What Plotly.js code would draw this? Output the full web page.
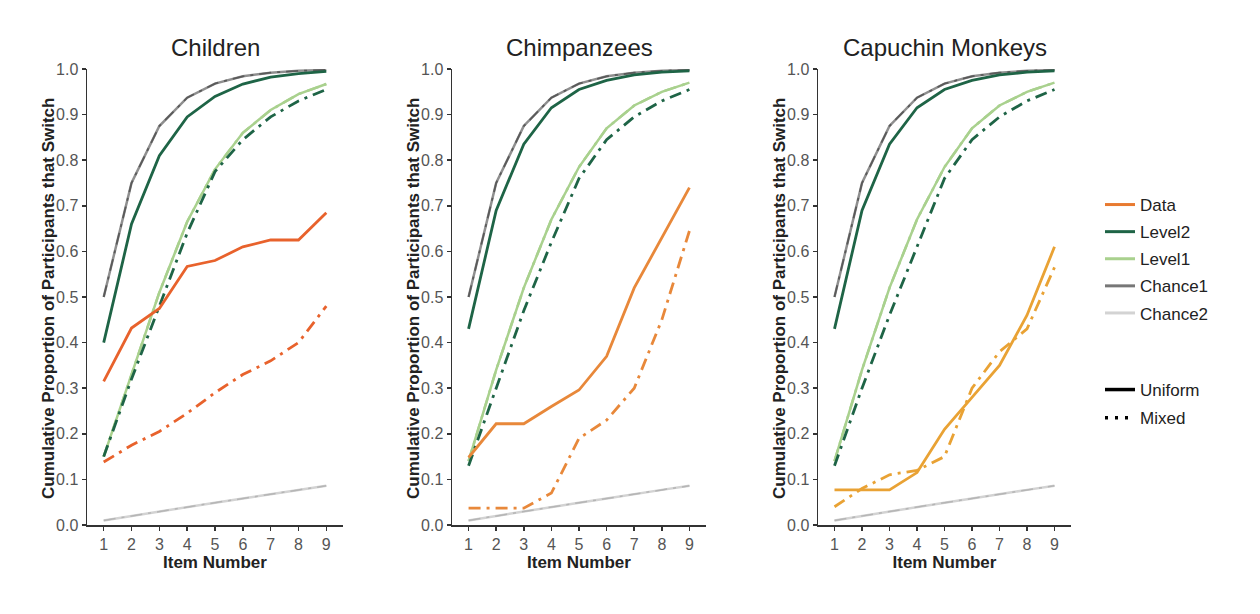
<!DOCTYPE html>
<html>
<head>
<meta charset="utf-8">
<script src="https://cdn.plot.ly/plotly-3.0.1.min.js"></script>
<style>html,body{margin:0;padding:0;background:#fff;}#chart{width:1260px;height:614px;}</style>
</head>
<body>
<div id="chart"></div>
<script>
// ---- data ----
const items = [1, 2, 3, 4, 5, 6, 7, 8, 9];
const panelTitles = ["Children", "Chimpanzees", "Capuchin Monkeys"];
const xTickLabels = ["1", "2", "3", "4", "5", "6", "7", "8", "9"];
const yTickValues = [0, 0.1, 0.2, 0.3, 0.4, 0.5, 0.6, 0.7, 0.8, 0.9, 1.0];
const yTickLabels = ["0.0", "0.1", "0.2", "0.3", "0.4", "0.5", "0.6", "0.7", "0.8", "0.9", "1.0"];
const xTitle = "Item Number";
const yTitle = "Cumulative Proportion of Participants that Switch";

const chance1 = [0.50, 0.75, 0.875, 0.937, 0.968, 0.984, 0.992, 0.996, 0.998];
const chance2 = [0.010, 0.020, 0.030, 0.039, 0.049, 0.058, 0.068, 0.077, 0.086];

// Children
const childLevel2Uniform = [0.40, 0.66, 0.81, 0.895, 0.94, 0.967, 0.982, 0.99, 0.995];
const childLevel2Mixed   = [0.15, 0.32, 0.48, 0.64, 0.775, 0.845, 0.895, 0.93, 0.955];
const childLevel1Uniform = [0.15, 0.33, 0.51, 0.665, 0.78, 0.86, 0.91, 0.945, 0.967];
const childLevel1Mixed   = [0.15, 0.33, 0.51, 0.665, 0.78, 0.86, 0.91, 0.945, 0.967];
const childDataUniform   = [0.315, 0.432, 0.475, 0.567, 0.58, 0.61, 0.625, 0.625, 0.685];
const childDataMixed     = [0.138, 0.175, 0.205, 0.245, 0.29, 0.33, 0.36, 0.40, 0.48];

// Chimpanzees
const chimpLevel2Uniform = [0.43, 0.69, 0.835, 0.915, 0.955, 0.975, 0.987, 0.993, 0.996];
const chimpLevel2Mixed   = [0.13, 0.30, 0.47, 0.62, 0.76, 0.845, 0.895, 0.93, 0.955];
const chimpLevel1Uniform = [0.14, 0.34, 0.52, 0.67, 0.785, 0.87, 0.92, 0.95, 0.97];
const chimpLevel1Mixed   = [0.14, 0.34, 0.52, 0.67, 0.785, 0.87, 0.92, 0.95, 0.97];
const chimpDataUniform   = [0.148, 0.222, 0.222, 0.26, 0.296, 0.37, 0.52, 0.63, 0.74];
const chimpDataMixed     = [0.037, 0.037, 0.037, 0.07, 0.19, 0.23, 0.30, 0.45, 0.645];

// Capuchin Monkeys
const capuLevel2Uniform = [0.43, 0.69, 0.835, 0.915, 0.955, 0.975, 0.987, 0.993, 0.996];
const capuLevel2Mixed   = [0.13, 0.30, 0.46, 0.61, 0.76, 0.845, 0.895, 0.93, 0.955];
const capuLevel1Uniform = [0.14, 0.34, 0.52, 0.67, 0.785, 0.87, 0.92, 0.95, 0.97];
const capuLevel1Mixed   = [0.14, 0.34, 0.52, 0.67, 0.785, 0.87, 0.92, 0.95, 0.97];
const capuDataUniform   = [0.077, 0.077, 0.077, 0.115, 0.21, 0.28, 0.35, 0.46, 0.61];
const capuDataMixed     = [0.04, 0.08, 0.11, 0.12, 0.15, 0.30, 0.38, 0.43, 0.565];

const seriesNames = ["Data", "Level2", "Level1", "Chance1", "Chance2"];
const typeNames = ["Uniform", "Mixed"];

// ---- styles ----
const dataColors = ["#E8622C", "#E8883A", "#E9A234"];
const legendDataColor = "#E87A30";
const level2Color = "#1E6446";
const level1Color = "#A9D18E";
const chance1Color = "#8f8f8f";
const chance1Dark = "#5a5a5a";
const chance1Legend = "#777777";
const chance2Color = "#d3d3d3";
const chance2Dark = "#b5b5b5";
const DASHDOT = "12px,6px,3px,6px";

const panels = [
  {l2u: childLevel2Uniform, l2m: childLevel2Mixed, l1u: childLevel1Uniform, l1m: childLevel1Mixed, du: childDataUniform, dm: childDataMixed},
  {l2u: chimpLevel2Uniform, l2m: chimpLevel2Mixed, l1u: chimpLevel1Uniform, l1m: chimpLevel1Mixed, du: chimpDataUniform, dm: chimpDataMixed},
  {l2u: capuLevel2Uniform, l2m: capuLevel2Mixed, l1u: capuLevel1Uniform, l1m: capuLevel1Mixed, du: capuDataUniform, dm: capuDataMixed}
];

const traces = [];
panels.forEach((p, i) => {
  const xa = i === 0 ? "x" : "x" + (i + 1);
  const ya = i === 0 ? "y" : "y" + (i + 1);
  const add = (y, color, width, dash, name) => traces.push({
    type: "scatter", mode: "lines", x: items, y: y, xaxis: xa, yaxis: ya,
    name: name, showlegend: false, hoverinfo: "skip",
    line: {color: color, width: width, dash: dash}
  });
  add(chance2, chance2Color, 2.5, "solid", "Chance2 Uniform");
  add(chance2, chance2Dark, 1.5, DASHDOT, "Chance2 Mixed");
  add(chance1, chance1Color, 2.5, "solid", "Chance1 Uniform");
  add(chance1, chance1Dark, 1.8, DASHDOT, "Chance1 Mixed");
  add(p.l1u, level1Color, 2.5, "solid", "Level1 Uniform");
  add(p.l1m, level1Color, 2.5, DASHDOT, "Level1 Mixed");
  add(p.l2u, level2Color, 2.8, "solid", "Level2 Uniform");
  add(p.l2m, level2Color, 2.8, DASHDOT, "Level2 Mixed");
  add(p.du, dataColors[i], 2.8, "solid", "Data Uniform");
  add(p.dm, dataColors[i], 2.8, DASHDOT, "Data Mixed");
});

// legend entries
const legendColors = [legendDataColor, level2Color, level1Color, chance1Legend, chance2Color];
seriesNames.forEach((n, k) => traces.push({
  type: "scatter", mode: "lines", x: [null], y: [null], name: n,
  legend: "legend", legendgroup: n, showlegend: true, hoverinfo: "skip",
  line: {color: legendColors[k], width: 3}
}));
typeNames.forEach((n, k) => traces.push({
  type: "scatter", mode: "lines", x: [null], y: [null], name: n,
  legend: "legend2", legendgroup: n, showlegend: true, hoverinfo: "skip",
  line: {color: "#000", width: 3.5, dash: k === 0 ? "solid" : "3px,7px"}
}));

const font = "Liberation Sans, Arial, sans-serif";
const W = 1260, H = 614;
const xDomains = [[87 / W, 343 / W], [452 / W, 706 / W], [818 / W, 1071 / W]];
const yTitleX = [48 / W, 413 / W, 779 / W];
const yDomain = [1 - 525 / H, 1 - 69 / H];

const layout = {
  width: W, height: H,
  margin: {l: 0, r: 0, t: 0, b: 0},
  paper_bgcolor: "#fff", plot_bgcolor: "#fff",
  font: {family: font, color: "#222"},
  legend: {x: 1100 / W, y: 1 - 187 / H, xanchor: "left", yanchor: "top",
    font: {family: font, size: 17, color: "#222"}, tracegroupgap: 2,
    bgcolor: "rgba(0,0,0,0)", itemwidth: 30, traceorder: "grouped"},
  legend2: {x: 1100 / W, y: 1 - 372 / H, xanchor: "left", yanchor: "top",
    font: {family: font, size: 17, color: "#222"}, tracegroupgap: 3,
    bgcolor: "rgba(0,0,0,0)", itemwidth: 30, traceorder: "grouped"},
  annotations: [],
  hovermode: false
};

panelTitles.forEach((t, i) => {
  const sfx = i === 0 ? "" : String(i + 1);
  layout["xaxis" + sfx] = {
    domain: xDomains[i], anchor: "y" + sfx, range: [0.4, 9.6], autorange: false,
    tickvals: items, ticktext: xTickLabels,
    showline: true, linecolor: "#333", linewidth: 1.5,
    ticks: "outside", ticklen: 4, tickwidth: 1.5, tickcolor: "#333",
    showgrid: false, zeroline: false,
    tickfont: {family: font, size: 16, color: "#555"},
    title: {text: "<b>" + xTitle + "</b>", font: {family: font, size: 17, color: "#222"}, standoff: 2}
  };
  layout["yaxis" + sfx] = {
    domain: yDomain, anchor: "x" + sfx, range: [0, 1], autorange: false,
    tickvals: yTickValues, ticktext: yTickLabels,
    showline: true, linecolor: "#333", linewidth: 1.5,
    ticks: "outside", ticklen: 4, tickwidth: 1.5, tickcolor: "#333",
    showgrid: false, zeroline: false,
    tickfont: {family: font, size: 16, color: "#555"}
  };
  layout.annotations.push({
    text: t, xref: "paper", yref: "paper",
    x: (xDomains[i][0] + xDomains[i][1]) / 2, y: 1 - 47 / H,
    xanchor: "center", yanchor: "middle", showarrow: false,
    font: {family: font, size: 24, color: "#222"}
  });
  layout.annotations.push({
    text: "<b>" + yTitle + "</b>", xref: "paper", yref: "paper",
    x: yTitleX[i], y: 1 - 299 / H, textangle: -90,
    xanchor: "center", yanchor: "middle", showarrow: false,
    font: {family: font, size: 17, color: "#222"}
  });
});

Plotly.newPlot("chart", traces, layout, {displayModeBar: false, staticPlot: true});
</script>
</body>
</html>
